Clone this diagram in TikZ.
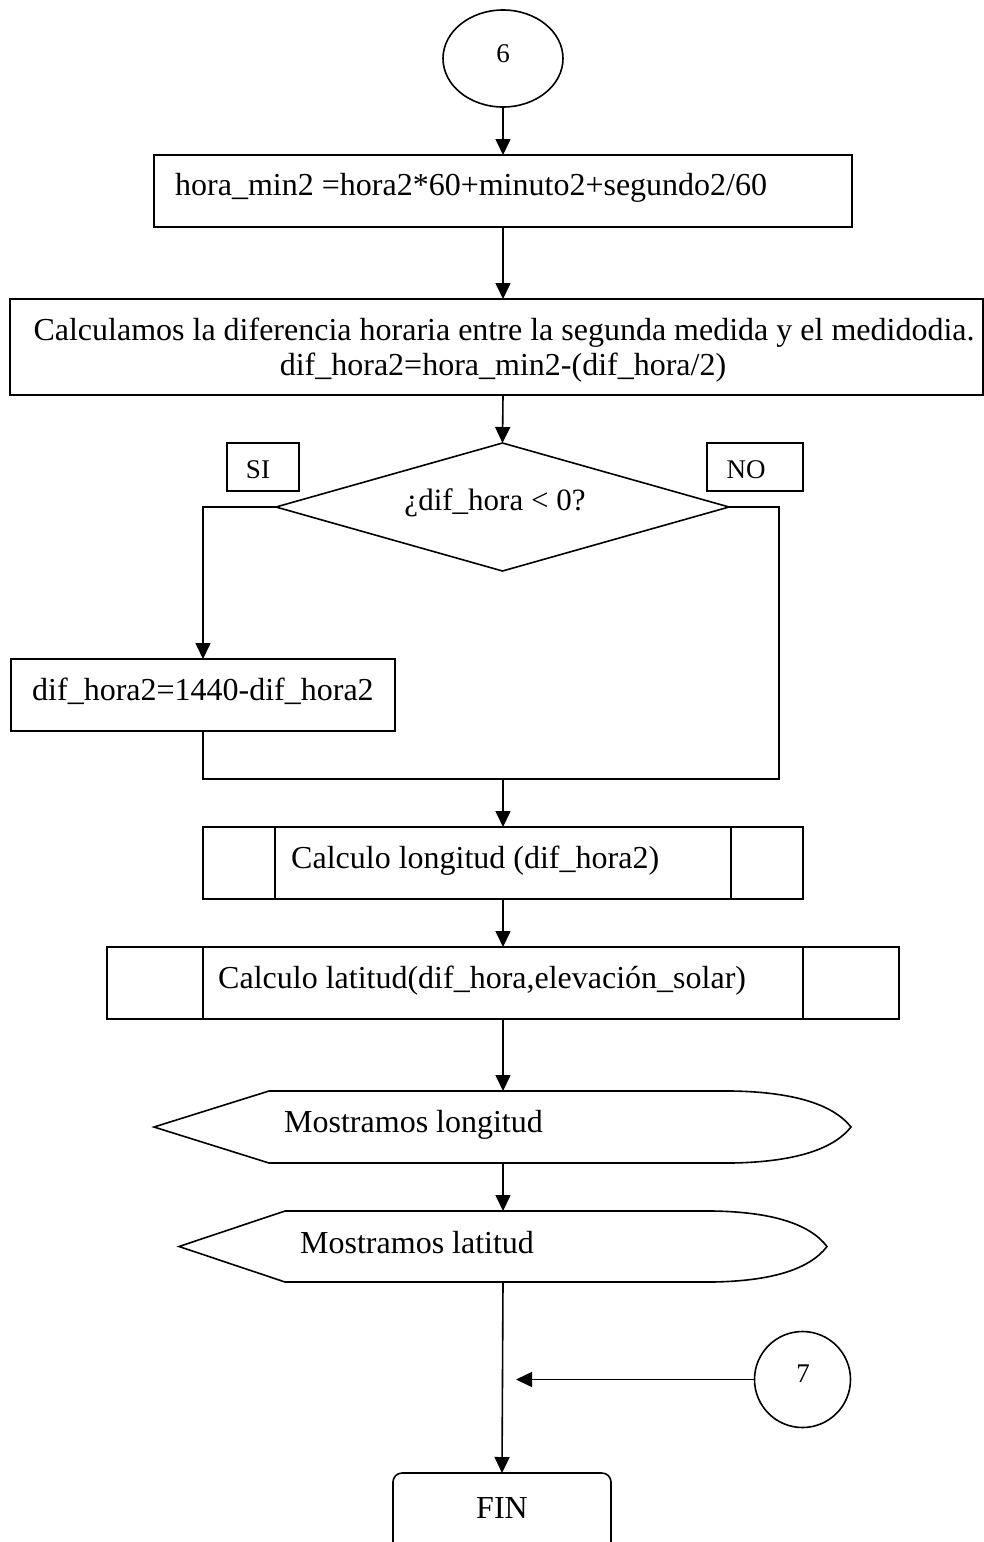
\documentclass[tikz,border=0pt]{standalone}
\usepackage{fontspec}
\setmainfont{Liberation Serif}
\usetikzlibrary{arrows.meta,calc,shapes.geometric}
\begin{document}
\begin{tikzpicture}[x=1pt,y=-1pt,
  outline/.style={draw, line width=1.6pt, inner sep=0pt, outer sep=0pt},
  label/.style={font=\fontsize{32}{34}\selectfont, inner sep=0pt, anchor=base west},
  centred/.style={font=\fontsize{32}{34}\selectfont, inner sep=0pt, anchor=base},
  tag/.style={font=\fontsize{27}{30}\selectfont, inner sep=0pt, anchor=base},
  flow/.style={line width=1.6pt, -{Triangle[width=15pt,length=16pt]}},
  wire/.style={line width=1.6pt}]
\useasboundingbox (0,0) rectangle (984,1542);

% connector 6
\node[outline, ellipse, minimum width=120pt, minimum height=97pt] (c6) at (503,58.5) {};
\node[tag] (c6t) at (503,62) {6};

% hour in minutes
\node[outline, rectangle, minimum width=698pt, minimum height=72pt] (b1) at (503,191) {};
\node[label] (b1t) at (175,195) {hora\_min2 =hora2*60+minuto2+segundo2/60};

% difference to midday
\node[outline, rectangle, minimum width=973pt, minimum height=96pt] (b2) at (496.5,347) {};
\node[centred] (b2a) at (504,340) {Calculamos la diferencia horaria entre la segunda medida y el medidodia.};
\node[centred] (b2b) at (503,375) {dif\_hora2=hora\_min2-(dif\_hora/2)};

% decision
\node[outline, diamond, minimum width=453pt, minimum height=128pt] (dec) at (502.5,507) {};
\node[centred, font=\fontsize{31}{34}\selectfont] (dect) at (495,510) {¿dif\_hora < 0?};
\node[outline, rectangle, minimum width=72pt, minimum height=48pt] (si) at (263,467) {};
\node[tag] (sit) at (258,478) {SI};
\node[outline, rectangle, minimum width=96pt, minimum height=48pt] (no) at (755,467) {};
\node[tag] (not) at (746,478) {NO};

% correction
\node[outline, rectangle, minimum width=384pt, minimum height=72pt] (b3) at (203,695) {};
\node[label] (b3t) at (32,700) {dif\_hora2=1440-dif\_hora2};

% merge point
\coordinate (jr) at (779,779);

% subroutine calls
\node[outline, rectangle, minimum width=600pt, minimum height=72pt] (b4) at (503,863) {};
\draw[wire] ($(b4.north west)+(72,0)$) -- ($(b4.south west)+(72,0)$);
\draw[wire] ($(b4.north east)+(-72,0)$) -- ($(b4.south east)+(-72,0)$);
\node[label] (b4t) at (291,868) {Calculo longitud (dif\_hora2)};

\node[outline, rectangle, minimum width=792pt, minimum height=72pt] (b5) at (503,983) {};
\draw[wire] ($(b5.north west)+(96,0)$) -- ($(b5.south west)+(96,0)$);
\draw[wire] ($(b5.north east)+(-96,0)$) -- ($(b5.south east)+(-96,0)$);
\node[label] (b5t) at (218,988) {Calculo latitud(dif\_hora,elevación\_solar)};

% displays
\coordinate (d1t) at (503,1091);
\coordinate (d1b) at (503,1163);
\draw[wire, line join=miter] (269,1091) -- (732,1091)
  .. controls (790,1092) and (832,1103) .. (851,1127)
  .. controls (832,1151) and (790,1162) .. (732,1163)
  -- (269,1163) -- (154,1127) -- cycle;
\node[label] (d1x) at (284,1132) {Mostramos longitud};

\coordinate (d2t) at (503,1211);
\coordinate (d2b) at (503,1282);
\draw[wire, line join=miter] (285,1211) -- (713,1211)
  .. controls (770,1212) and (809,1223) .. (827,1246.5)
  .. controls (809,1270) and (770,1281) .. (713,1282)
  -- (285,1282) -- (179,1246.5) -- cycle;
\node[label] (d2x) at (300,1253) {Mostramos latitud};

% end
\node[outline, rectangle, rounded corners=9pt, minimum width=218pt, minimum height=110pt, anchor=north] (fin) at (502,1473) {};
\node[centred] (fint) at (502,1518) {FIN};

% connector 7
\node[outline, circle, minimum size=96pt] (c7) at (802.5,1379.5) {};
\node[tag] (c7t) at (803,1382) {7};
\coordinate (c7end) at (516,1379.5);

% connectors
\draw[flow] (c6.south) -- (b1.north);
\draw[flow] (b1.south) -- (b1.south |- b2.north);
\draw[flow] (b1.south |- b2.south) -- (dec.north);
\draw[flow] (dec.west) -| (b3.north);
\draw[wire] (b3.south) |- (jr) |- (dec.east);
\draw[flow] (b4.north |- jr) -- (b4.north);
\draw[flow] (b4.south) -- (b5.north);
\draw[flow] (b5.south) -- (d1t);
\draw[flow] (d1b) -- (d2t);
\draw[flow] (d2b) -- (fin.north);
\draw[flow] (c7.west) -- (c7end);
\end{tikzpicture}
\end{document}
